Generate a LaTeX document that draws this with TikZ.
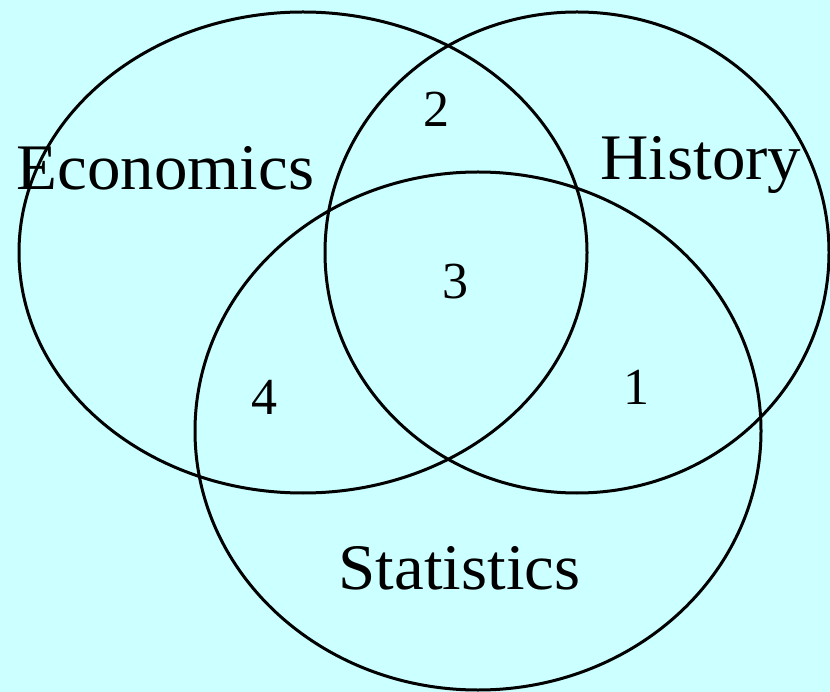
\documentclass[tikz,border=0pt]{standalone}
\usepackage{fontspec}
\setmainfont{Liberation Serif}
\definecolor{bgcyan}{HTML}{CCFFFF}
\begin{document}
\begin{tikzpicture}[x=1pt,y=-1pt,
  setline/.style={draw=black,line width=3pt},
  setlabel/.style={anchor=base,inner sep=0pt,xscale=1.03,font=\fontsize{65}{65}\selectfont},
  countlabel/.style={anchor=base,inner sep=0pt,font=\fontsize{52}{52}\selectfont}]
\fill[bgcyan] (0,0) rectangle (830,692);
\useasboundingbox (0,0) rectangle (830,692);
\draw[setline] (303,252.5) ellipse [x radius=284, y radius=240.5];
\draw[setline] (577,252.5) ellipse [x radius=252, y radius=240.5];
\draw[setline] (478,431) ellipse [x radius=283, y radius=259];
\node[setlabel] (econ) at (165.5,190) {Economics};
\node[setlabel] (hist) at (701,180) {History};
\node[setlabel] (stat) at (459.5,589) {Statistics};
\node[countlabel] (n2) at (436,127) {2};
\node[countlabel] (n3) at (455,299) {3};
\node[countlabel] (n4) at (264,414) {4};
\node[countlabel] (n1) at (636,405) {1};
\end{tikzpicture}
\end{document}
